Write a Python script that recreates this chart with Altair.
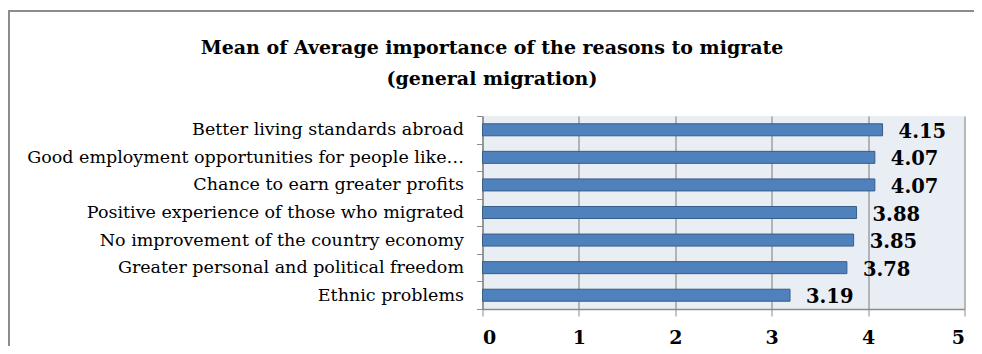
import altair as alt
import pandas as pd

title_lines = [
    "Mean of Average importance of the reasons to migrate",
    "(general migration)",
]
categories = [
    "Better living standards abroad",
    "Good employment opportunities for people like\u2026",
    "Chance to earn greater profits",
    "Positive experience of those who migrated",
    "No improvement of the country economy",
    "Greater personal and political freedom",
    "Ethnic problems",
]
values = [4.15, 4.07, 4.07, 3.88, 3.85, 3.78, 3.19]
labels = ["4.15", "4.07", "4.07", "3.88", "3.85", "3.78", "3.19"]
x_ticks = [0, 1, 2, 3, 4, 5]

df = pd.DataFrame({"reason": categories, "value": values, "label": labels})
one = pd.DataFrame({"k": [0]})

FONT = "DejaVu Serif"
W, H = 482, 193
PL, PT = 474.5, 108
OX, OY = PL + 8, PT + 8  # page position of the plot origin

y_enc = alt.Y(
    "reason:N",
    sort=categories,
    title=None,
    scale=alt.Scale(paddingInner=0, paddingOuter=0),
    axis=alt.Axis(
        tickBand="extent",
        ticks=True,
        tickSize=6,
        tickColor="#8c8c8c",
        domainColor="#8c8c8c",
        domainWidth=1.5,
        labelFont=FONT,
        labelFontSize=17.5,
        labelColor="#000000",
        labelPadding=13,
        labelLimit=600,
        grid=False,
    ),
)
x_enc = alt.X(
    "value:Q",
    title=None,
    scale=alt.Scale(domain=[0, 5], nice=False),
    axis=alt.Axis(
        values=x_ticks,
        format="d",
        tickSize=7,
        tickColor="#8c8c8c",
        domainColor="#8c8c8c",
        domainWidth=1.5,
        grid=True,
        gridColor="#8c8c8c",
        gridWidth=1.2,
        labelFont=FONT,
        labelFontSize=19,
        labelFontWeight="bold",
        labelColor="#000000",
        labelBaseline="alphabetic",
        labelPadding=27,
    ),
)

bars = alt.Chart(df).mark_bar(
    size=12, color="#4f81bd", stroke="#385d8a", strokeWidth=1
).encode(x=x_enc, y=y_enc)

text = alt.Chart(df).mark_text(
    align="left", baseline="middle", dx=16, dy=2,
    font=FONT, fontSize=19.5, fontWeight="bold", color="#000000"
).encode(x="value:Q", y=alt.Y("reason:N", sort=categories), text="label:N")

border_left = alt.Chart(one).mark_rule(color="#8c8c8c", strokeWidth=2).encode(
    x=alt.value(9 - OX), y=alt.value(10 - OY), y2=alt.value(400)
)
border_top = alt.Chart(one).mark_rule(color="#8c8c8c", strokeWidth=2).encode(
    x=alt.value(8 - OX), x2=alt.value(700), y=alt.value(11 - OY)
)

title1 = alt.Chart(one).mark_text(
    align="center", baseline="alphabetic", font=FONT, fontSize=19,
    fontWeight="bold", color="#000000"
).encode(x=alt.value(492 - OX), y=alt.value(54 - OY), text=alt.value(title_lines[0]))
title2 = alt.Chart(one).mark_text(
    align="center", baseline="alphabetic", font=FONT, fontSize=19,
    fontWeight="bold", color="#000000"
).encode(x=alt.value(492 - OX), y=alt.value(85 - OY), text=alt.value(title_lines[1]))

chart = alt.layer(bars, text, border_left, border_top, title1, title2).properties(
    width=W,
    height=H,
    autosize=alt.AutoSizeParams(type="none"),
    padding={"left": PL, "top": PT, "right": 9.5, "bottom": 37},
    background="#ffffff",
).configure_view(fill="#e9edf4", stroke=None)

chart.save("out.html", embed_options={"renderer": "svg", "actions": False})
